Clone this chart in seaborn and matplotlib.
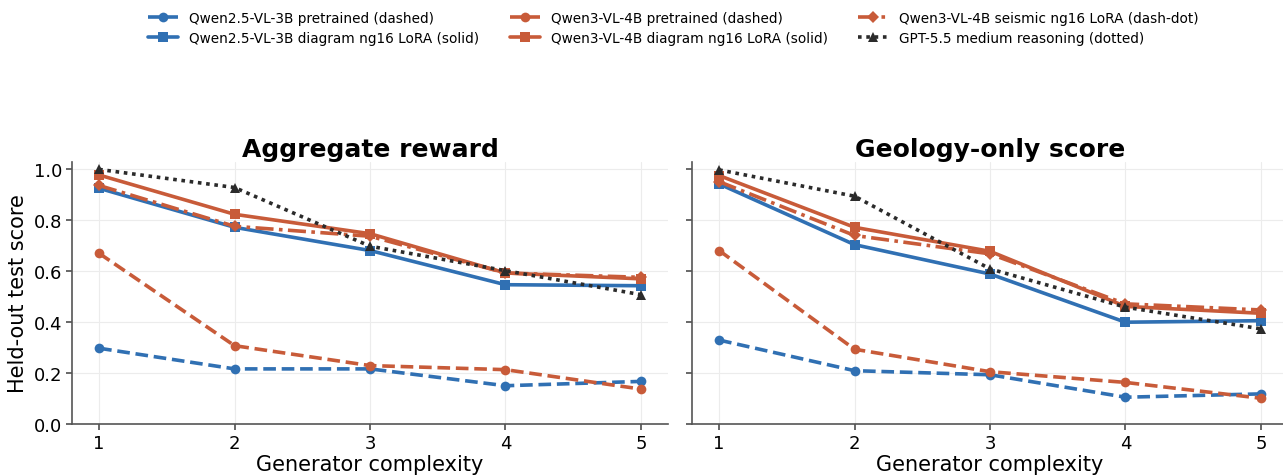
import matplotlib
matplotlib.use("Agg")
import matplotlib.pyplot as plt
import seaborn as sns
import pandas as pd

complexity = [1, 2, 3, 4, 5]

series_names = [
    "Qwen2.5-VL-3B pretrained (dashed)",
    "Qwen2.5-VL-3B diagram ng16 LoRA (solid)",
    "Qwen3-VL-4B pretrained (dashed)",
    "Qwen3-VL-4B diagram ng16 LoRA (solid)",
    "Qwen3-VL-4B seismic ng16 LoRA (dash-dot)",
    "GPT-5.5 medium reasoning (dotted)",
]

agg_q25_pre = [0.297, 0.216, 0.216, 0.150, 0.167]
agg_q25_lora = [0.924, 0.771, 0.680, 0.546, 0.542]
agg_q3_pre = [0.669, 0.307, 0.229, 0.213, 0.137]
agg_q3_lora = [0.976, 0.822, 0.746, 0.592, 0.569]
agg_q3_seis = [0.935, 0.775, 0.736, 0.592, 0.575]
agg_gpt = [0.998, 0.927, 0.697, 0.601, 0.507]

geo_q25_pre = [0.329, 0.209, 0.193, 0.105, 0.118]
geo_q25_lora = [0.941, 0.703, 0.588, 0.399, 0.405]
geo_q3_pre = [0.680, 0.293, 0.205, 0.163, 0.101]
geo_q3_lora = [0.974, 0.771, 0.677, 0.461, 0.434]
geo_q3_seis = [0.950, 0.739, 0.667, 0.471, 0.447]
geo_gpt = [0.996, 0.893, 0.608, 0.458, 0.373]

panel_titles = ["Aggregate reward", "Geology-only score"]

BLUE = "#3070b3"
ORANGE = "#c85b39"
DARK = "#2b2b2b"
styles = [
    dict(color=BLUE, linestyle=(0, (3.5, 1.6)), marker="o"),
    dict(color=BLUE, linestyle="-", marker="s"),
    dict(color=ORANGE, linestyle=(0, (3.5, 1.6)), marker="o"),
    dict(color=ORANGE, linestyle="-", marker="s"),
    dict(color=ORANGE, linestyle=(0, (5, 1.5, 1, 1.5)), marker="D"),
    dict(color=DARK, linestyle=(0, (1, 1.3)), marker="^"),
]

sns.set_theme(style="whitegrid")
plt.rcParams["font.family"] = ["DejaVu Sans"]
plt.rcParams["text.color"] = "black"
plt.rcParams["axes.labelcolor"] = "black"
plt.rcParams["xtick.color"] = "black"
plt.rcParams["ytick.color"] = "black"

fig = plt.figure(figsize=(12.83, 4.77), dpi=100)
ax1 = fig.add_axes([72/1283, 1-425/477, (668-72)/1283, (425-163)/477])
ax2 = fig.add_axes([692/1283, 1-425/477, (1288-692)/1283, (425-163)/477], sharey=ax1)

panels = [
    (ax1, [agg_q25_pre, agg_q25_lora, agg_q3_pre, agg_q3_lora, agg_q3_seis, agg_gpt]),
    (ax2, [geo_q25_pre, geo_q25_lora, geo_q3_pre, geo_q3_lora, geo_q3_seis, geo_gpt]),
]

for (ax, vals), title in zip(panels, panel_titles):
    for name, v, st in zip(series_names, vals, styles):
        df = pd.DataFrame({"x": complexity, "y": v})
        ms = 6 if st["marker"] == "D" else 7
        sns.lineplot(data=df, x="x", y="y", ax=ax, color=st["color"], linestyle=st["linestyle"],
                     marker=st["marker"], markersize=ms, markeredgewidth=0, linewidth=2.6, label=name,
                     legend=False)
    ax.set_title(title, fontsize=18, fontweight="bold", color="black", pad=4)
    ax.set_xlim(0.8, 5.2)
    ax.set_ylim(0, 1.027)
    ax.set_xticks(complexity)
    ax.set_yticks([0, 0.2, 0.4, 0.6, 0.8, 1.0])
    ax.set_xlabel("Generator complexity", fontsize=15, labelpad=2)
    ax.tick_params(labelsize=13, length=4, color="#555555", pad=3)
    ax.tick_params(axis="both", which="major", bottom=True, left=True)
    ax.grid(True, color="#ececec", linewidth=0.8)
    for s in ["top", "right"]:
        ax.spines[s].set_visible(False)
    for s in ["left", "bottom"]:
        ax.spines[s].set_color("#555555")
        ax.spines[s].set_linewidth(1.2)

ax1.set_ylabel("Held-out test score", fontsize=15)
ax1.yaxis.set_major_formatter(matplotlib.ticker.FormatStrFormatter("%.1f"))
ax2.set_ylabel("")
plt.setp(ax2.get_yticklabels(), visible=False)

handles, labels = ax1.get_legend_handles_labels()
fig.legend(handles, labels, loc="upper center", bbox_to_anchor=(0.525, 1.0), ncol=3,
           frameon=False, fontsize=9.8, columnspacing=2.25, handlelength=2.2,
           labelspacing=0.4, handletextpad=0.8)

fig.savefig("out.png", dpi=100)
